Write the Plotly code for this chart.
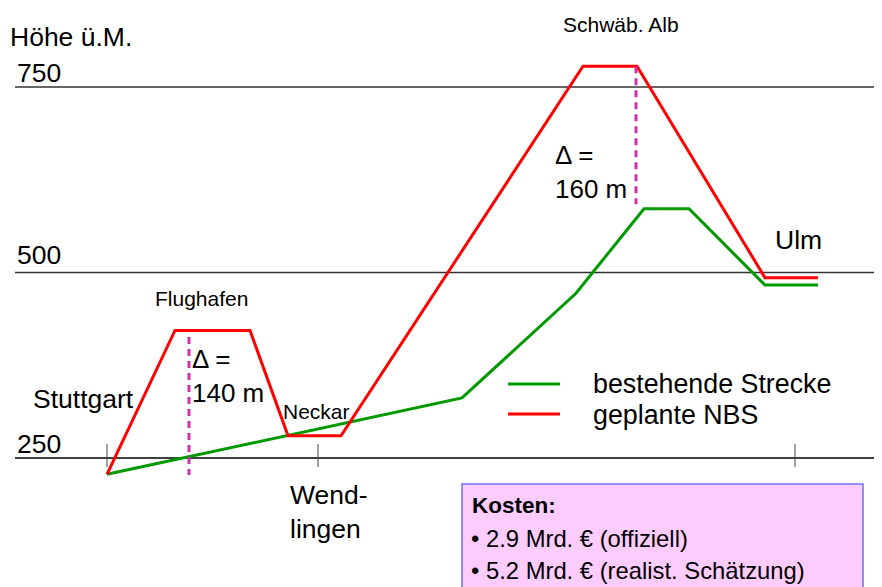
import plotly.graph_objects as go

# schematic distance positions (arbitrary units) and elevations (m ü.M.)
red_x = [107, 175, 250, 288, 341, 583, 637, 765, 818]
red_h = [228, 422, 422, 280, 280, 778, 778, 493, 493]
green_x = [107, 462, 576, 644, 689, 765, 818]
green_h = [228, 331, 472, 586, 586, 483, 483]

grid_levels = [750, 500, 250]
grid_labels = ["750", "500", "250"]

delta_x = [189, 636]
delta_top = [413, 778]
delta_bot = [227, 592]
delta_text = ["Δ =<br>140 m", "Δ =<br>160 m"]

station_x = [107, 318, 795]

W, H = 882, 587
OFF = 8  # page body margin
Y0, SCALE = 272.5, 0.742  # px of 500 m, px per m


def ey(py):
    return 500 - (py - Y0) / SCALE


ymin, ymax = ey(OFF + H), ey(OFF)
FONT = "Liberation Sans, Arial, sans-serif"

fig = go.Figure()
fig.add_trace(go.Scatter(x=green_x, y=green_h, mode="lines",
                         line=dict(color="#009900", width=3), showlegend=False,
                         hoverinfo="skip"))
fig.add_trace(go.Scatter(x=red_x, y=red_h, mode="lines",
                         line=dict(color="#FF0000", width=3), showlegend=False,
                         hoverinfo="skip"))

shapes = []
for lv in grid_levels:
    shapes.append(dict(type="line", x0=15, x1=W + 20, y0=lv, y1=lv, xref="x", yref="y",
                       line=dict(color="#333333" if lv != 250 else "#000000", width=1.3),
                       layer="below"))
for sx in station_x:
    shapes.append(dict(type="line", x0=sx, x1=sx, y0=ey(444), y1=ey(467), xref="x", yref="y",
                       line=dict(color="#444444", width=1)))
for dx, t, b in zip(delta_x, delta_top, delta_bot):
    shapes.append(dict(type="line", x0=dx, x1=dx, y0=t, y1=b, xref="x", yref="y",
                       line=dict(color="#CC33AA", width=3, dash="7px,5px")))
# legend samples
shapes.append(dict(type="line", x0=508, x1=560, y0=ey(384), y1=ey(384),
                   line=dict(color="#009900", width=3)))
shapes.append(dict(type="line", x0=508, x1=560, y0=ey(414), y1=ey(414),
                   line=dict(color="#FF0000", width=3)))
# cost box
shapes.append(dict(type="rect", x0=462, x1=863, y0=ey(484), y1=ey(620),
                   fillcolor="#FFCCFF", line=dict(color="#7070F0", width=1.5)))

ann = []


def text(s, x, py, size, bold=False):
    ann.append(dict(text=("<b>%s</b>" % s) if bold else s, x=x, y=ey(py), xref="x", yref="y",
                    xanchor="left", yanchor="middle", showarrow=False, align="left",
                    font=dict(family=FONT, size=size, color="#000000")))


text("Höhe ü.M.", 8, 37, 26.5)
text(grid_labels[0], 15, 73, 26.5)
text(grid_labels[1], 15, 255, 26.5)
text(grid_labels[2], 15, 444, 26.5)
text("Stuttgart", 31, 399, 26.5)
text("Flughafen", 153, 298, 21)
text(delta_text[0], 190, 376, 26)
text("Neckar", 281, 411, 21)
text("Wend-<br>lingen", 288, 512, 26.5)
text("Schwäb. Alb", 561, 24, 21)
text(delta_text[1], 553, 172, 26)
text("Ulm", 773, 240, 26.5)
text("bestehende Strecke", 591, 384, 26.8)
text("geplante NBS", 591, 415, 26.8)
text("Kosten:", 470, 505, 22.5, bold=True)
text("• 2.9 Mrd. € (offiziell)", 469, 538, 23.8)
text("• 5.2 Mrd. € (realist. Schätzung)", 469, 570, 23.8)

fig.update_layout(
    width=W, height=H, margin=dict(l=0, r=0, t=0, b=0),
    paper_bgcolor="white", plot_bgcolor="white",
    xaxis=dict(range=[OFF, OFF + W], visible=False, fixedrange=True),
    yaxis=dict(range=[ymin, ymax], visible=False, fixedrange=True),
    shapes=shapes, annotations=ann, showlegend=False,
)
fig.write_html("out.html")
